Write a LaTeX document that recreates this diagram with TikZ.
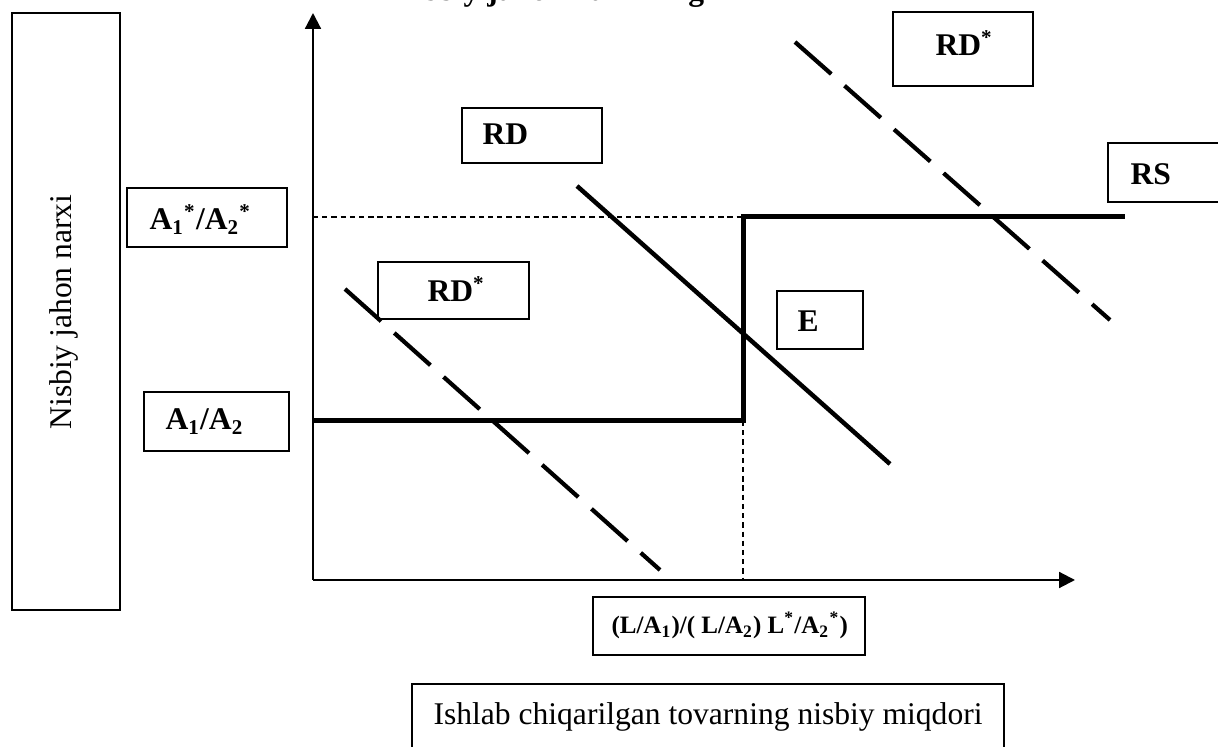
\documentclass[tikz,border=0pt]{standalone}
\usepackage{fontspec}
\setmainfont{Liberation Serif}
\usetikzlibrary{arrows.meta}
\begin{document}
\begin{tikzpicture}[x=0.38pt,y=-0.38pt,
  box/.style={draw, line width=0.7pt, inner sep=0pt},
  lbl/.style={font=\fontsize{12}{14}\selectfont\bfseries, anchor=base west, inner sep=0pt},
  plain/.style={font=\fontsize{12}{14}\selectfont, inner sep=0pt},
  axis/.style={line width=0.8pt, -{Triangle[length=6pt,width=6pt]}},
  guide/.style={line width=0.4pt, dash pattern=on 2pt off 1.5pt},
  supply/.style={line width=1.9pt},
  demand/.style={line width=1.7pt},
  demandstar/.style={line width=1.6pt, dash pattern=on 18.4pt off 6.7pt}]
\useasboundingbox (0,0) rectangle (1218,747);

% title (cut off at the top)
\node[lbl] (title) at (393,0.5) {Nisbiy jahon narxining};

% coordinates
\coordinate (O) at (313,580);
\coordinate (ytip) at (313,13);
\coordinate (xtip) at (1075,580);
\coordinate (ylev) at (313,217);
\coordinate (xlev) at (743,580);
\coordinate (s1) at (313,421);
\coordinate (s2) at (743,421);
\coordinate (s3) at (743,217);
\coordinate (s4) at (1125,217);
\coordinate (d1) at (577,186);
\coordinate (d2) at (890,464);
\coordinate (l1) at (345,289);
\coordinate (l2) at (660,570);
\coordinate (u1) at (795,42);
\coordinate (u2) at (1110,320);

% boxes
\node[box, minimum width=41.04pt, minimum height=226.86pt] (ybox) at (66,311.5) {};
\node[plain, rotate=90] (ylab) at (64,312) {Nisbiy jahon narxi};

\node[box, minimum width=60.8pt, minimum height=22.42pt] (bAs) at (207,217.5) {};
\node[lbl] (tAs) at (149,230) {A\textsubscript{1}\textsuperscript{*}/A\textsubscript{2}\textsuperscript{*}};

\node[box, minimum width=55.1pt, minimum height=22.42pt] (bA) at (216.5,421.5) {};
\node[lbl] (tA) at (165,430) {A\textsubscript{1}/A\textsubscript{2}};

\node[box, minimum width=57.38pt, minimum height=21.66pt] (bRDl) at (453.5,290.5) {};
\node[lbl] (tRDl) at (427,302) {RD\textsuperscript{*}};

\node[box, minimum width=53.2pt, minimum height=20.9pt] (bRD) at (532,135.5) {};
\node[lbl] (tRD) at (482,145) {RD};

\node[box, minimum width=53.2pt, minimum height=28.12pt] (bRDu) at (963,49) {};
\node[lbl] (tRDu) at (935,56) {RD\textsuperscript{*}};

\node[box, minimum width=50.16pt, minimum height=22.42pt] (bRS) at (1174,172.5) {};
\node[lbl] (tRS) at (1130,185) {RS};

\node[box, minimum width=32.68pt, minimum height=22.04pt] (bE) at (820,320) {};
\node[lbl] (tE) at (797,332) {E};

\node[box, minimum width=103.36pt, minimum height=22.04pt] (bX) at (729,626) {};
\node[lbl, font=\fontsize{9.5}{11}\selectfont\bfseries] (tX) at (611,634) {(L/A\textsubscript{1})/( L/A\textsubscript{2}) L\textsuperscript{*}/A\textsubscript{2}\textsuperscript{*})};

\node[box, minimum width=225.2pt, minimum height=30.4pt] (bT) at (708,724) {};
\node[plain, anchor=base west] (tT) at (433,725) {Ishlab chiqarilgan tovarning nisbiy miqdori};

% axes
\draw[axis] (O) -- (ytip);
\draw[axis] (O) -- (xtip);

% guides
\draw[guide] (ylev) -- (s3);
\draw[guide] (s2) -- (xlev);

% supply
\draw[supply] (s1) -- (s2) -- (s3) -- (s4);

% demand
\draw[demand] (d1) -- (d2);
\draw[demandstar] (l1) -- (l2);
\draw[demandstar] (u1) -- (u2);
\end{tikzpicture}
\end{document}
